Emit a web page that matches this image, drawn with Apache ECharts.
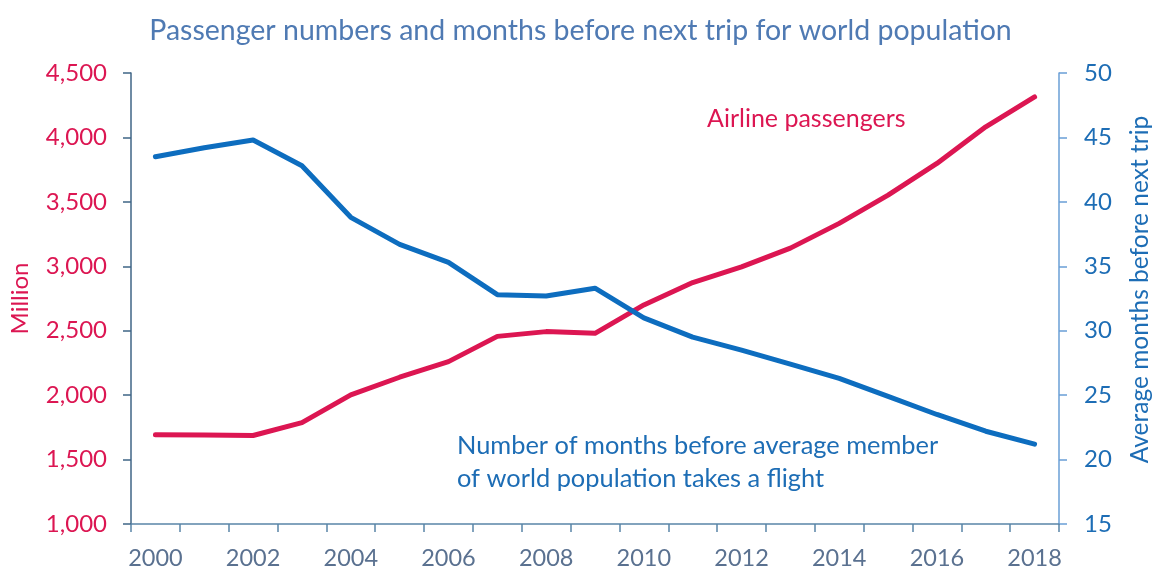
<!DOCTYPE html>
<html>
<head>
<meta charset="utf-8">
<title>Passenger numbers and months before next trip</title>
<script src="https://cdn.jsdelivr.net/npm/echarts@6/dist/echarts.min.js"></script>
<style>
  html, body { margin: 0; padding: 0; background: #fff; }
  #chart { width: 1161px; height: 572px; }
</style>
</head>
<body>
<div id="chart"></div>
<script>
// values
const years = ['2000', '2001', '2002', '2003', '2004', '2005', '2006', '2007', '2008', '2009',
  '2010', '2011', '2012', '2013', '2014', '2015', '2016', '2017', '2018']
// airline passengers, million
const passengers = [1692, 1690, 1687, 1787, 2002, 2139, 2260, 2456, 2493, 2480,
  2700, 2874, 2996, 3141, 3333, 3552, 3798, 4082, 4314]
// average months before next trip
const monthsBeforeTrip = [43.5, 44.2, 44.8, 42.8, 38.8, 36.7, 35.3, 32.8, 32.7, 33.3,
  31.0, 29.5, 28.5, 27.4, 26.3, 24.9, 23.5, 22.2, 21.2]
const leftRange = [1000, 4500, 500]
const rightRange = [15, 50, 5]

const font = 'Lato'
const red = '#dc1652'
const blue = '#0d6dbf'

const chart = echarts.init(document.getElementById('chart'))

chart.setOption({
  animation: false,
  textStyle: { fontFamily: font },
  title: {
    text: 'Passenger numbers and months before next trip for world population',
    left: 'center',
    top: 11,
    textStyle: { color: '#4f7ab3', fontSize: 28.5, fontWeight: 'normal', fontFamily: font }
  },
  grid: { left: 130, right: 95, top: 73, bottom: 48 },
  xAxis: {
    type: 'category',
    data: years,
    boundaryGap: true,
    axisLine: { lineStyle: { color: '#5a85a8', width: 1.5 } },
    axisTick: { show: true, interval: 0, length: 8, lineStyle: { color: '#5a85a8', width: 1.5 } },
    axisLabel: { interval: 1, margin: 22, color: '#5a7190', fontSize: 23.5, fontFamily: font }
  },
  yAxis: [{
    type: 'value',
    position: 'left',
    min: leftRange[0],
    max: leftRange[1],
    interval: leftRange[2],
    name: 'Million',
    nameLocation: 'middle',
    nameRotate: 90,
    nameGap: 99,
    nameTextStyle: { color: red, fontSize: 24, fontFamily: font },
    splitLine: { show: false },
    axisLine: { show: true, lineStyle: { color: '#3f6586', width: 1.5 } },
    axisTick: { show: true, length: 8, lineStyle: { color: '#3f6586', width: 1.5 } },
    axisLabel: {
      margin: 24,
      color: red,
      fontSize: 24,
      fontFamily: font,
      formatter: v => v.toLocaleString('en-US')
    }
  }, {
    type: 'value',
    position: 'right',
    min: rightRange[0],
    max: rightRange[1],
    interval: rightRange[2],
    name: 'Average months before next trip',
    nameLocation: 'middle',
    nameRotate: 90,
    nameGap: 69,
    nameTextStyle: { color: '#1d6db5', fontSize: 24.5, fontFamily: font, padding: [0, 0, 0, 18] },
    splitLine: { show: false },
    axisLine: { show: true, lineStyle: { color: '#6a9fd6', width: 1.5 } },
    axisTick: { show: true, length: 8, lineStyle: { color: '#6a9fd6', width: 1.5 } },
    axisLabel: { margin: 25, color: '#1d6db5', fontSize: 24, fontFamily: font }
  }],
  graphic: [{
    type: 'text',
    left: 707,
    top: 106,
    style: { text: 'Airline passengers', fill: red, fontSize: 25, fontFamily: font }
  }, {
    type: 'text',
    left: 457,
    top: 429,
    style: {
      text: 'Number of months before average member\nof world population takes a flight',
      fill: '#1d6db5',
      fontSize: 25.4,
      lineHeight: 33,
      fontFamily: font
    }
  }],
  series: [{
    name: 'Airline passengers',
    type: 'line',
    yAxisIndex: 0,
    data: passengers,
    symbol: 'none',
    lineStyle: { color: red, width: 5, cap: 'round', join: 'round' }
  }, {
    name: 'Months before next trip',
    type: 'line',
    yAxisIndex: 1,
    data: monthsBeforeTrip,
    symbol: 'none',
    lineStyle: { color: blue, width: 5, cap: 'round', join: 'round' }
  }]
})
</script>
</body>
</html>
